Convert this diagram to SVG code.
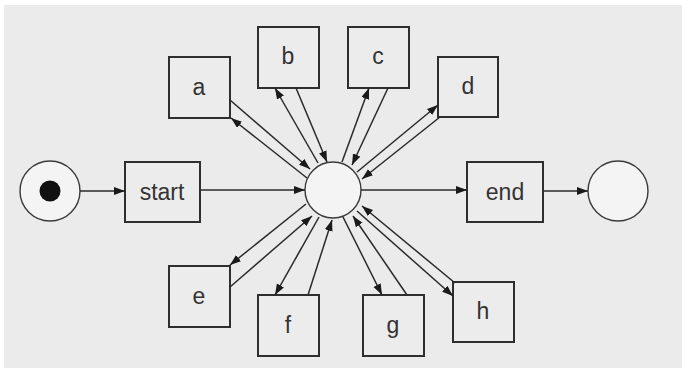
<svg xmlns="http://www.w3.org/2000/svg" width="682" height="368" viewBox="0 0 682 368">
<defs>
<style>
.box{fill:#ececec;stroke:#2e2e2e;stroke-width:2}
.pl{fill:#f4f4f4;stroke:#3a3a3a;stroke-width:1.4}
.lbl{font-family:"Liberation Sans",Arial,sans-serif;font-size:23px;fill:#333;text-anchor:middle}
.c line{stroke:#2a2a2a;stroke-width:1.5;marker-end:url(#ah)}
</style>
<marker id="ah" markerWidth="12" markerHeight="9" refX="11" refY="4" orient="auto" markerUnits="userSpaceOnUse">
<path d="M0,0 L11,4 L0,8 z" fill="#1a1a1a"/>
</marker>
</defs>
<rect x="0" y="0" width="682" height="368" fill="#ffffff"/>
<rect x="4" y="5" width="678" height="363" fill="#ebebeb"/>
<g id="p-start"><circle class="pl" cx="50" cy="191" r="30"/><circle cx="50" cy="191" r="10.5" fill="#111"/></g>
<g id="t-start"><rect class="box" x="125" y="162" width="75" height="60"/><text class="lbl" x="162" y="200">start</text></g>
<g id="p-mid"><circle class="pl" cx="333" cy="190" r="28"/></g>
<g id="t-end"><rect class="box" x="467" y="162" width="76" height="60"/><text class="lbl" x="505" y="200">end</text></g>
<g id="p-end"><circle class="pl" cx="618" cy="191" r="30"/></g>
<g id="t-a"><rect class="box" x="169" y="57" width="61" height="61"/><text class="lbl" x="199" y="95">a</text></g>
<g id="t-b"><rect class="box" x="258" y="27" width="61" height="61"/><text class="lbl" x="288" y="64">b</text></g>
<g id="t-c"><rect class="box" x="348" y="27" width="61" height="61"/><text class="lbl" x="378" y="64">c</text></g>
<g id="t-d"><rect class="box" x="438" y="57" width="60" height="60"/><text class="lbl" x="468" y="94">d</text></g>
<g id="t-e"><rect class="box" x="169" y="266" width="61" height="61"/><text class="lbl" x="199" y="304">e</text></g>
<g id="t-f"><rect class="box" x="258" y="295" width="61" height="61"/><text class="lbl" x="288" y="333">f</text></g>
<g id="t-g"><rect class="box" x="363" y="295" width="61" height="61"/><text class="lbl" x="393" y="333">g</text></g>
<g id="t-h"><rect class="box" x="453" y="282" width="61" height="60"/><text class="lbl" x="483" y="319">h</text></g>
<g id="connectors" class="c">
<line x1="80" y1="191" x2="125" y2="191"/>
<line x1="200" y1="190" x2="305" y2="190"/>
<line x1="361" y1="190" x2="467" y2="190"/>
<line x1="543" y1="191" x2="588" y2="191"/>
<line x1="230" y1="100" x2="310" y2="169"/>
<line x1="307" y1="178" x2="231" y2="118"/>
<line x1="318" y1="163" x2="275" y2="88"/>
<line x1="296" y1="88" x2="327" y2="162"/>
<line x1="342" y1="162" x2="369" y2="88"/>
<line x1="388" y1="88" x2="352" y2="165"/>
<line x1="357" y1="172" x2="438" y2="105"/>
<line x1="440" y1="117" x2="362" y2="179"/>
<line x1="306" y1="204" x2="230" y2="265"/>
<line x1="230" y1="287" x2="312" y2="216"/>
<line x1="319" y1="217" x2="275" y2="295"/>
<line x1="308" y1="295" x2="332" y2="220"/>
<line x1="343" y1="217" x2="382" y2="295"/>
<line x1="407" y1="295" x2="353" y2="216"/>
<line x1="357" y1="211" x2="453" y2="296"/>
<line x1="455" y1="283" x2="362" y2="206"/>
</g>
</svg>
